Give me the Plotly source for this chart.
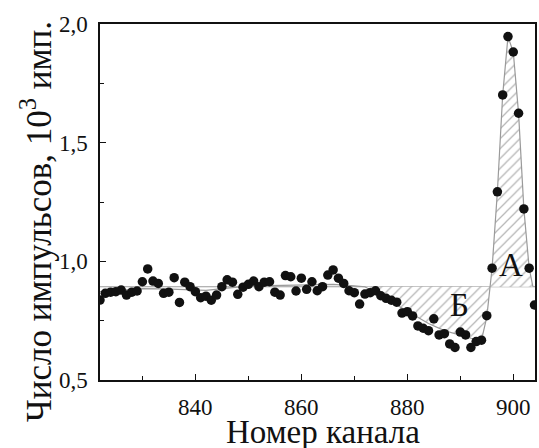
import plotly.graph_objects as go

# Measured spectrum: channel number and counts (10^3)
channels = list(range(822, 905))
counts = [
    0.837, 0.865, 0.870, 0.872, 0.879, 0.858, 0.870, 0.875, 0.914, 0.968,
    0.917, 0.907, 0.865, 0.870, 0.931, 0.827, 0.912, 0.893, 0.872, 0.847,
    0.853, 0.836, 0.858, 0.893, 0.922, 0.912, 0.861, 0.891, 0.903, 0.917,
    0.893, 0.912, 0.914, 0.870, 0.858, 0.940, 0.935, 0.875, 0.929, 0.882,
    0.914, 0.876, 0.893, 0.942, 0.964, 0.929, 0.907, 0.876, 0.868, 0.820,
    0.862, 0.868, 0.876, 0.855, 0.844, 0.836, 0.828, 0.782, 0.788, 0.770,
    0.728, 0.718, 0.708, 0.758, 0.690, 0.695, 0.652, 0.637, 0.702, 0.690,
    0.637, 0.662, 0.668, 0.771, 0.971, 1.293, 1.701, 1.947, 1.882, 1.624,
    1.221, 0.971, 0.816,
]

# Smoothed curve through the data
fit_x = [822, 826, 830, 834, 838, 842, 846, 850, 854, 858, 862, 866, 870,
         872, 875, 878, 881, 884, 887, 890, 892, 894, 895, 896, 897, 898,
         899, 900, 901, 902, 903, 903.7]
fit_y = [0.872, 0.878, 0.885, 0.884, 0.880, 0.878, 0.887, 0.895, 0.898,
         0.900, 0.902, 0.903, 0.897, 0.893, 0.855, 0.815, 0.775, 0.738,
         0.708, 0.688, 0.676, 0.668, 0.765, 0.971, 1.293, 1.701, 1.947,
         1.882, 1.624, 1.221, 0.971, 0.893]

baseline = 0.893
fill_start = 872
x_range = [822, 904.1]
y_range = [0.5, 2.0]

labels = ["А", "Б"]
label_x = [899.6, 889.9]
label_y = [0.985, 0.816]

x_title = "Номер канала"
y_title = "Число импульсов, 10<sup>3</sup> имп."

FONT = "Liberation Serif"
GRAY = "#9a9a9a"

i0 = fit_x.index(fill_start)

fig = go.Figure()
# horizontal baseline
fig.add_trace(go.Scatter(x=x_range, y=[baseline, baseline], mode="lines",
                         line=dict(color=GRAY, width=1.2), hoverinfo="skip"))
# invisible baseline for the fill
fig.add_trace(go.Scatter(x=[fit_x[i0], fit_x[-1]], y=[baseline, baseline],
                         mode="lines", line=dict(width=0), hoverinfo="skip"))
# hatched area between curve and baseline
fig.add_trace(go.Scatter(x=fit_x[i0:], y=fit_y[i0:], mode="lines",
                         line=dict(width=0), fill="tonexty",
                         fillpattern=dict(shape="/", fgcolor="#6e6e6e",
                                          bgcolor="white", size=7,
                                          solidity=0.18),
                         hoverinfo="skip"))
# curve
fig.add_trace(go.Scatter(x=fit_x, y=fit_y, mode="lines",
                         line=dict(color=GRAY, width=1.2), hoverinfo="skip"))
# data points
fig.add_trace(go.Scatter(x=channels, y=counts, mode="markers",
                         marker=dict(color="#111111", size=9.5)))

for t, xx, yy in zip(labels, label_x, label_y):
    fig.add_annotation(x=xx, y=yy, text=t, showarrow=False,
                       font=dict(family=FONT, size=33, color="#111"))

# axis titles placed as paper annotations
fig.add_annotation(xref="paper", yref="paper", x=0.5126, y=-0.147,
                   xanchor="center", yanchor="middle", showarrow=False,
                   text=x_title, font=dict(family=FONT, size=33, color="#111"))
fig.add_annotation(xref="paper", yref="paper", x=-0.146, y=0.445,
                   xanchor="center", yanchor="middle", showarrow=False,
                   textangle=-90,
                   text=y_title, font=dict(family=FONT, size=35, color="#111"))

fig.update_layout(
    width=539, height=448,
    margin=dict(l=100, r=2, t=24, b=68),
    paper_bgcolor="white", plot_bgcolor="white",
    showlegend=False,
    separators=", ",
    font=dict(family=FONT, color="#111"),
)
fig.update_xaxes(
    range=x_range, tick0=840, dtick=20, ticks="inside", ticklen=6,
    tickwidth=1.2, tickcolor="#111",
    minor=dict(dtick=10, ticks="inside", ticklen=4, tickcolor="#111"),
    showline=True, linecolor="#111", linewidth=1.5, mirror=True,
    showgrid=False, zeroline=False,
    tickfont=dict(family=FONT, size=23, color="#111"),
    ticklabelstandoff=6,
)
fig.update_yaxes(
    range=y_range, tick0=0.5, dtick=0.5, tickformat=".1f",
    ticks="inside", ticklen=6, tickwidth=1.2, tickcolor="#111",
    minor=dict(dtick=0.25, ticks="inside", ticklen=4, tickcolor="#111"),
    showline=True, linecolor="#111", linewidth=1.5, mirror=True,
    showgrid=False, zeroline=False,
    tickfont=dict(family=FONT, size=23, color="#111"),
    ticklabelstandoff=6,
)

fig.write_html(
    "out.html",
    config={"displayModeBar": False},
    post_script="document.body.style.margin='0';document.body.style.overflow='hidden';",
)
